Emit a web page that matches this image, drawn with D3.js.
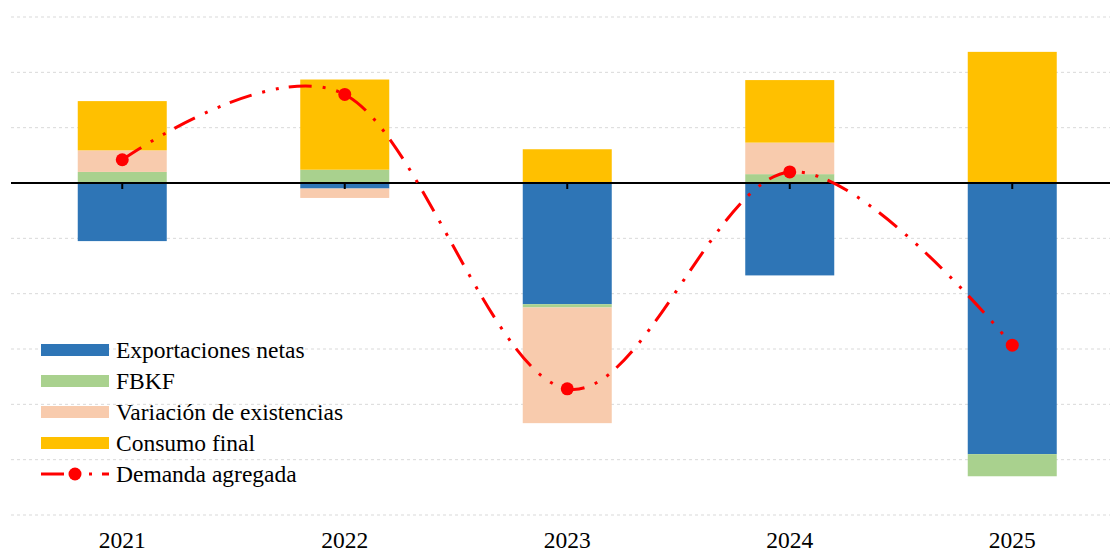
<!DOCTYPE html>
<html>
<head>
<meta charset="utf-8">
<script src="https://cdn.jsdelivr.net/npm/d3@7"></script>
<style>
  body { margin: 0; background: #fff; }
  svg { display: block; }
</style>
</head>
<body>
<div id="chart"></div>
<script>
// Data (contribuciones, puntos porcentuales)
const years = ['2021', '2022', '2023', '2024', '2025'];
const exportacionesNetas = [-1.05, -0.10, -2.19, -1.67, -4.90];
const fbkf = [0.20, 0.24, -0.06, 0.16, -0.40];
const variacionExistencias = [0.39, -0.17, -2.09, 0.57, 0.00];
const consumoFinal = [0.89, 1.63, 0.61, 1.13, 2.37];
const demandaAgregada = [0.42, 1.60, -3.72, 0.20, -2.93];
const yTicks = [-6, -5, -4, -3, -2, -1, 1, 2, 3];

const seriesNames = ['Exportaciones netas', 'FBKF', 'Variación de existencias', 'Consumo final'];
const seriesKeys = ['exp', 'fbkf', 'var', 'cons'];
const colors = ['#2E75B6', '#A9D18E', '#F8CBAD', '#FFC000'];

const rows = years.map((y, i) => ({
    year: y,
    exp: exportacionesNetas[i],
    fbkf: fbkf[i],
    var: variacionExistencias[i],
    cons: consumoFinal[i]
}));

const width = 1110;
const height = 552;
const font = "'Liberation Serif', 'Times New Roman', serif";

const svg = d3.select('#chart')
    .append('svg')
    .attr('width', width)
    .attr('height', height);

// Scales
const x = d3.scaleBand()
    .domain(years)
    .range([11, 1123.5])
    .paddingInner(0.6)
    .paddingOuter(0.3);

const y = d3.scaleLinear()
    .domain([-6, 3])
    .range([515, 17]);

// Gridlines
svg.append('g')
    .selectAll('line')
    .data(yTicks)
    .join('line')
    .attr('x1', 11)
    .attr('x2', width)
    .attr('y1', d => y(d))
    .attr('y2', d => y(d))
    .attr('stroke', '#d9d9d9')
    .attr('stroke-width', 1)
    .attr('stroke-dasharray', '3,3');

// Stacked bars
const stack = d3.stack()
    .keys(seriesKeys)
    .offset(d3.stackOffsetDiverging);

const stacked = stack(rows);

svg.append('g')
    .selectAll('g')
    .data(stacked)
    .join('g')
    .attr('fill', (d, i) => colors[i])
    .selectAll('rect')
    .data(d => d)
    .join('rect')
    .attr('x', d => x(d.data.year))
    .attr('width', x.bandwidth())
    .attr('y', d => y(Math.max(d[0], d[1])))
    .attr('height', d => Math.abs(y(d[0]) - y(d[1])));

// Zero axis with ticks
svg.append('line')
    .attr('x1', 11)
    .attr('x2', width)
    .attr('y1', y(0))
    .attr('y2', y(0))
    .attr('stroke', '#000')
    .attr('stroke-width', 2);

svg.append('g')
    .selectAll('line')
    .data(years)
    .join('line')
    .attr('x1', d => x(d) + x.bandwidth() / 2)
    .attr('x2', d => x(d) + x.bandwidth() / 2)
    .attr('y1', y(0))
    .attr('y2', y(0) + 6)
    .attr('stroke', '#000')
    .attr('stroke-width', 2);

// Year labels
svg.append('g')
    .selectAll('text')
    .data(years)
    .join('text')
    .attr('x', d => x(d) + x.bandwidth() / 2)
    .attr('y', 548)
    .attr('text-anchor', 'middle')
    .style('font-family', font)
    .style('font-size', '23.5px')
    .attr('fill', '#000')
    .text(d => d);

// Demanda agregada line
const dashPattern = '23,11,3,11,3,10';
const line = d3.line()
    .x((d, i) => x(years[i]) + x.bandwidth() / 2)
    .y(d => y(d))
    .curve(d3.curveCardinal.tension(0));

svg.append('path')
    .datum(demandaAgregada)
    .attr('d', line)
    .attr('fill', 'none')
    .attr('stroke', '#FF0000')
    .attr('stroke-width', 3)
    .attr('stroke-dasharray', dashPattern);

svg.append('g')
    .selectAll('circle')
    .data(demandaAgregada)
    .join('circle')
    .attr('cx', (d, i) => x(years[i]) + x.bandwidth() / 2)
    .attr('cy', d => y(d))
    .attr('r', 6.5)
    .attr('fill', '#FF0000');

// Legend
const legend = svg.append('g');
const legendTop = 350;
const legendStep = 31;

seriesNames.forEach((name, i) => {
    const cy = legendTop + i * legendStep;
    legend.append('rect')
        .attr('x', 41)
        .attr('y', cy - 6)
        .attr('width', 68)
        .attr('height', 12)
        .attr('fill', colors[i]);
    legend.append('text')
        .attr('x', 116)
        .attr('y', cy + 7.5)
        .style('font-family', font)
        .style('font-size', '23.5px')
        .attr('fill', '#000')
        .text(name);
});

const lineY = legendTop + 4 * legendStep;
legend.append('line')
    .attr('x1', 41)
    .attr('x2', 109)
    .attr('y1', lineY)
    .attr('y2', lineY)
    .attr('stroke', '#FF0000')
    .attr('stroke-width', 3)
    .attr('stroke-dasharray', dashPattern);
legend.append('circle')
    .attr('cx', 75)
    .attr('cy', lineY)
    .attr('r', 6.5)
    .attr('fill', '#FF0000');
legend.append('text')
    .attr('x', 116)
    .attr('y', lineY + 7.5)
    .style('font-family', font)
    .style('font-size', '23.5px')
    .attr('fill', '#000')
    .text('Demanda agregada');
</script>
</body>
</html>
